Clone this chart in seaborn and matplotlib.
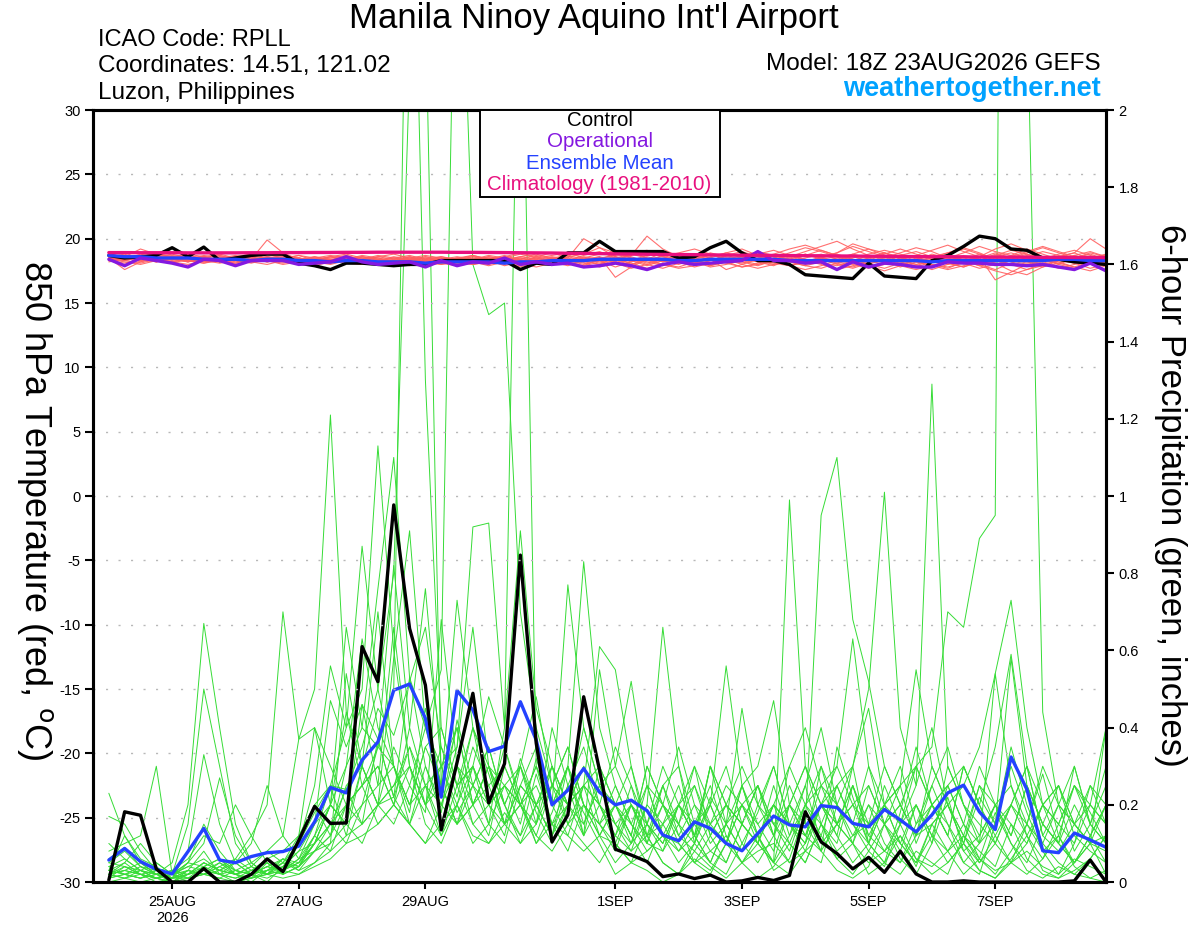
import pandas as pd
import seaborn as sns
import matplotlib.pyplot as plt
from matplotlib.patches import Rectangle

# 6-hourly valid times, 24AUG 00Z .. 8SEP 18Z
times = pd.date_range("2026-08-24 00:00", periods=64, freq="6h")

tick_dates = ["2026-08-25", "2026-08-27", "2026-08-29", "2026-09-01",
              "2026-09-03", "2026-09-05", "2026-09-07"]
tick_labels = ["25AUG\n2026", "27AUG", "29AUG", "1SEP", "3SEP", "5SEP", "7SEP"]

# 850 hPa temperature (C)
control_temp = [18.7, 18.5, 18.6, 18.7, 19.3, 18.6, 19.35, 18.3, 18.5, 18.7, 18.8, 18.8, 18.1, 17.9, 17.6, 18.1,
                18.1, 18.0, 17.9, 18.0, 18.0, 18.3, 18.3, 18.3, 18.3, 18.3, 17.6, 18.1, 18.0, 18.9, 18.9, 19.8,
                19.0, 19.0, 19.0, 19.0, 18.5, 18.6, 19.3, 19.8, 18.9, 18.3, 18.3, 18.0, 17.2, 17.1, 17.0, 16.9,
                18.1, 17.1, 17.0, 16.9, 18.3, 18.7, 19.4, 20.2, 20.0, 19.2, 19.1, 18.5, 18.4, 18.2, 18.1, 18.0]
oper_temp = [18.4, 17.9, 18.5, 18.3, 18.1, 17.8, 18.4, 18.3, 17.9, 18.3, 18.3, 18.3, 18.0, 18.1, 18.2, 18.6,
             18.2, 18.0, 18.1, 18.2, 17.8, 18.3, 17.9, 18.2, 18.1, 18.5, 18.0, 18.2, 18.0, 18.1, 17.8, 17.9,
             18.1, 17.9, 17.6, 18.0, 18.2, 18.0, 18.1, 18.2, 18.3, 19.0, 18.3, 18.3, 18.1, 18.2, 17.6, 18.2,
             17.8, 18.1, 18.0, 17.8, 17.8, 18.2, 18.1, 18.1, 18.0, 18.0, 17.9, 18.0, 17.8, 17.6, 18.1, 17.5]
mean_temp = [18.7, 18.6, 18.6, 18.5, 18.5, 18.5, 18.4, 18.4, 18.4, 18.3, 18.4, 18.4, 18.3, 18.3, 18.2, 18.3,
             18.3, 18.2, 18.2, 18.2, 18.1, 18.2, 18.2, 18.2, 18.2, 18.1, 18.2, 18.2, 18.3, 18.3, 18.3, 18.4,
             18.4, 18.4, 18.4, 18.4, 18.3, 18.3, 18.4, 18.4, 18.4, 18.4, 18.4, 18.3, 18.3, 18.3, 18.3, 18.3,
             18.3, 18.3, 18.3, 18.3, 18.2, 18.3, 18.3, 18.3, 18.3, 18.3, 18.3, 18.3, 18.4, 18.4, 18.3, 18.3]
clim_temp = [18.92, 18.92, 18.91, 18.91, 18.91, 18.90, 18.90, 18.90, 18.90, 18.91, 18.91, 18.92, 18.92, 18.93, 18.93, 18.94,
             18.94, 18.95, 18.95, 18.95, 18.95, 18.95, 18.94, 18.94, 18.93, 18.92, 18.91, 18.90, 18.89, 18.87, 18.86, 18.84,
             18.82, 18.81, 18.79, 18.78, 18.77, 18.76, 18.74, 18.73, 18.72, 18.71, 18.70, 18.69, 18.68, 18.67, 18.66, 18.65,
             18.64, 18.63, 18.62, 18.61, 18.60, 18.60, 18.59, 18.58, 18.57, 18.57, 18.56, 18.55, 18.55, 18.54, 18.54, 18.53]

temp_members = [
    [18.6, 18.4, 18.8, 18.5, 18.3, 18.6, 18.4, 18.2, 18.5, 18.7, 18.4, 18.3, 18.1, 18.2, 18.4, 18.6,
     18.3, 18.0, 18.2, 18.4, 18.1, 18.3, 18.5, 18.2, 18.0, 18.3, 18.6, 18.4, 18.1, 18.3, 18.7, 19.0,
     18.5, 18.2, 18.4, 18.0, 17.8, 18.2, 18.5, 18.9, 18.6, 18.3, 18.1, 17.9, 18.2, 18.5, 18.8, 18.4,
     18.0, 17.7, 18.1, 18.5, 18.3, 18.0, 18.4, 18.8, 18.5, 18.2, 17.9, 18.3, 18.6, 18.4, 18.1, 18.3],
    [18.3, 18.7, 18.5, 18.2, 18.6, 18.8, 18.3, 18.5, 18.2, 18.4, 19.9, 18.9, 18.4, 18.0, 18.3, 18.5,
     18.2, 18.4, 18.1, 17.9, 18.3, 18.5, 18.2, 18.0, 18.4, 18.7, 18.3, 18.1, 18.5, 18.2, 17.9, 18.4,
     18.8, 18.5, 18.1, 18.4, 18.7, 18.3, 17.9, 18.2, 18.6, 19.0, 18.7, 18.3, 18.0, 18.4, 18.6, 18.2,
     17.8, 18.2, 18.7, 19.0, 18.6, 18.1, 17.8, 18.3, 18.7, 19.1, 18.8, 18.4, 18.0, 18.5, 18.9, 18.6],
    [18.5, 17.6, 18.2, 18.7, 18.4, 18.2, 18.6, 18.3, 18.1, 18.4, 18.2, 18.5, 18.7, 18.3, 18.1, 18.4,
     18.6, 18.3, 18.5, 18.2, 17.9, 18.1, 18.4, 18.6, 18.3, 17.9, 18.2, 18.6, 18.9, 18.5, 20.0, 19.3,
     18.6, 18.0, 18.3, 18.7, 18.4, 18.1, 18.5, 18.2, 17.8, 18.1, 18.5, 18.9, 19.3, 19.0, 18.6, 18.2,
     18.5, 18.9, 18.4, 18.0, 17.6, 18.0, 18.4, 18.2, 17.9, 18.3, 18.7, 18.4, 18.1, 17.8, 18.2, 18.5],
    [18.4, 18.6, 19.2, 18.8, 18.5, 18.3, 18.1, 18.4, 18.6, 18.3, 18.5, 18.2, 18.4, 18.6, 18.3, 18.1,
     18.0, 18.3, 18.6, 18.4, 18.2, 18.5, 18.3, 18.0, 18.2, 18.5, 18.8, 18.5, 18.2, 17.9, 18.3, 18.6,
     17.0, 17.8, 18.4, 18.9, 18.5, 18.2, 18.6, 18.9, 19.2, 18.7, 18.3, 17.9, 18.2, 18.6, 18.9, 19.4,
     19.0, 18.6, 18.2, 17.9, 18.3, 18.7, 18.4, 18.0, 17.6, 18.1, 18.6, 19.0, 18.7, 18.3, 18.0, 18.2],
    [18.7, 18.5, 18.3, 18.6, 18.8, 18.5, 18.2, 18.4, 18.3, 18.1, 18.4, 18.6, 18.3, 18.5, 18.2, 18.4,
     18.7, 18.5, 18.2, 18.0, 18.4, 18.6, 18.4, 18.1, 18.3, 18.1, 17.8, 18.2, 18.4, 18.6, 18.3, 18.0,
     18.3, 18.7, 20.2, 19.2, 18.6, 18.2, 17.9, 18.3, 18.6, 18.2, 17.9, 18.4, 18.8, 18.5, 18.1, 17.8,
     18.2, 18.5, 18.9, 19.3, 19.0, 18.5, 18.1, 17.7, 18.0, 18.4, 18.8, 18.5, 18.0, 17.7, 18.1, 18.4],
    [18.2, 18.4, 18.6, 18.3, 18.1, 18.4, 18.7, 18.5, 18.3, 18.6, 18.3, 18.0, 18.2, 18.4, 18.1, 18.3,
     18.5, 18.2, 17.9, 18.2, 18.5, 18.3, 18.0, 18.3, 18.6, 18.4, 18.1, 17.8, 18.1, 18.4, 18.2, 18.5,
     18.2, 18.9, 19.1, 18.6, 18.2, 17.8, 18.1, 18.5, 18.3, 18.0, 18.4, 18.7, 18.4, 18.1, 17.9, 18.3,
     18.7, 18.4, 18.0, 18.3, 18.8, 18.5, 18.2, 18.6, 16.8, 17.4, 18.0, 18.3, 18.6, 18.9, 20.0, 19.2],
    [18.5, 18.3, 18.5, 18.8, 18.6, 18.4, 18.2, 18.5, 18.7, 18.5, 18.2, 18.4, 18.2, 17.9, 18.2, 18.5,
     18.3, 18.6, 18.4, 18.1, 18.3, 18.0, 18.2, 18.5, 18.3, 18.6, 18.9, 18.6, 18.3, 18.1, 18.5, 18.8,
     19.0, 18.6, 18.2, 17.9, 18.3, 18.6, 18.4, 17.6, 18.0, 18.4, 18.2, 18.6, 19.0, 19.4, 19.8, 19.2,
     18.7, 18.3, 17.8, 18.2, 18.6, 18.9, 19.3, 18.9, 18.4, 18.0, 17.6, 17.9, 18.3, 18.1, 18.5, 18.7],
    [18.6, 18.8, 18.4, 18.2, 18.4, 18.7, 18.5, 18.3, 18.0, 18.3, 18.6, 18.4, 18.1, 18.3, 18.6, 18.4,
     18.1, 18.3, 18.5, 18.7, 18.4, 18.2, 18.5, 18.3, 18.1, 18.4, 18.2, 18.5, 18.7, 18.9, 18.5, 18.2,
     18.4, 18.1, 17.7, 18.0, 18.4, 18.8, 18.5, 18.2, 18.5, 18.8, 19.1, 18.7, 18.3, 18.0, 17.6, 17.9,
     18.3, 18.8, 19.2, 18.8, 18.4, 18.1, 17.8, 18.2, 18.6, 18.9, 18.5, 18.2, 18.6, 18.9, 18.4, 18.0],
    [18.4, 18.2, 18.0, 18.3, 18.5, 18.2, 18.5, 18.7, 18.4, 18.2, 18.0, 18.3, 18.5, 18.3, 18.6, 18.8,
     18.5, 18.2, 18.4, 18.6, 18.2, 18.0, 18.3, 18.6, 18.5, 18.2, 18.0, 18.3, 18.0, 18.2, 18.5, 18.3,
     17.8, 18.2, 18.6, 18.3, 18.0, 18.4, 18.8, 18.4, 18.0, 17.7, 18.0, 18.3, 18.7, 19.1, 18.7, 18.3,
     17.9, 17.5, 17.9, 18.4, 18.0, 17.7, 18.2, 18.6, 19.2, 19.6, 19.1, 18.6, 18.2, 17.8, 17.5, 17.9],
    [18.8, 18.6, 18.4, 18.2, 18.5, 18.8, 18.6, 18.3, 18.5, 18.2, 18.5, 18.7, 18.5, 18.2, 18.0, 18.3,
     18.4, 18.7, 18.5, 18.3, 18.6, 18.4, 18.1, 18.3, 18.5, 18.3, 18.5, 18.2, 18.0, 18.3, 18.6, 18.4,
     18.6, 18.3, 18.7, 19.0, 18.7, 18.4, 18.0, 18.2, 18.5, 18.9, 18.6, 18.2, 17.9, 18.2, 18.5, 18.8,
     18.5, 18.2, 17.9, 17.6, 17.9, 18.3, 18.7, 18.4, 18.1, 17.5, 17.2, 17.8, 18.3, 18.7, 19.0, 18.6],
    [18.3, 18.5, 18.7, 18.4, 18.2, 18.0, 18.3, 18.6, 18.4, 18.6, 18.3, 18.1, 18.3, 18.5, 18.7, 18.5,
     18.2, 18.0, 18.2, 18.5, 18.7, 18.5, 18.2, 18.4, 18.7, 18.5, 18.3, 18.0, 18.2, 18.4, 18.1, 17.8,
     18.1, 18.4, 18.0, 17.7, 18.1, 18.5, 18.9, 18.6, 18.3, 18.5, 18.8, 19.2, 19.5, 19.1, 18.7, 18.4,
     18.0, 18.4, 18.7, 18.3, 18.0, 17.8, 18.1, 18.5, 18.9, 18.5, 18.2, 18.0, 18.3, 18.7, 18.4, 18.1],
    [18.5, 18.7, 18.5, 18.3, 18.6, 18.3, 18.1, 18.3, 18.6, 18.8, 18.5, 18.3, 18.5, 18.2, 18.4, 18.2,
     18.0, 18.2, 18.3, 18.5, 18.2, 18.4, 18.6, 18.4, 18.2, 18.0, 18.4, 18.7, 18.4, 18.6, 18.8, 19.3,
     18.9, 18.5, 18.3, 18.0, 17.7, 17.9, 18.3, 18.7, 18.4, 18.2, 18.5, 18.2, 17.9, 17.7, 18.1, 18.5,
     18.8, 19.1, 18.8, 18.5, 18.2, 18.5, 18.9, 19.4, 19.0, 18.7, 18.4, 18.1, 17.7, 18.0, 18.3, 18.6],
    [18.6, 18.3, 18.1, 18.4, 18.2, 18.4, 18.6, 18.8, 18.5, 18.3, 18.6, 18.4, 18.2, 18.4, 18.6, 18.3,
     18.6, 18.4, 18.1, 18.3, 18.0, 18.3, 18.5, 18.7, 18.4, 18.2, 18.4, 18.1, 18.3, 18.5, 18.2, 18.5,
     18.7, 19.0, 18.5, 18.2, 18.5, 18.2, 17.8, 18.0, 18.3, 18.6, 18.3, 17.9, 17.6, 17.9, 18.3, 18.6,
     18.3, 18.0, 18.4, 18.7, 19.1, 19.5, 19.0, 18.6, 18.2, 18.5, 18.9, 19.3, 18.9, 18.5, 18.2, 18.5],
    [18.4, 18.5, 18.3, 18.5, 18.7, 18.5, 18.3, 18.1, 18.3, 18.5, 18.2, 18.4, 18.7, 18.5, 18.3, 18.5,
     18.2, 18.0, 18.3, 18.1, 18.4, 18.6, 18.3, 18.2, 17.9, 18.2, 18.5, 18.3, 18.5, 18.2, 18.4, 18.6,
     18.3, 18.0, 18.4, 18.6, 18.9, 19.2, 18.8, 18.4, 18.1, 18.4, 18.7, 18.4, 18.1, 18.5, 18.2, 18.0,
     17.7, 18.0, 18.5, 18.2, 17.9, 18.2, 18.6, 18.3, 18.0, 18.3, 18.0, 17.8, 18.1, 18.5, 18.8, 18.4],
    [18.7, 18.5, 18.7, 18.4, 18.2, 18.5, 18.3, 18.6, 18.4, 18.2, 18.4, 18.2, 18.5, 18.3, 18.1, 18.4,
     18.6, 18.4, 18.2, 18.4, 18.6, 18.3, 18.1, 18.4, 18.6, 18.4, 18.6, 18.8, 18.5, 18.3, 18.0, 18.3,
     18.5, 18.8, 18.5, 18.2, 18.4, 18.7, 18.4, 18.1, 17.8, 18.0, 18.2, 18.5, 18.2, 18.5, 18.9, 19.6,
     19.2, 18.7, 18.3, 18.0, 18.4, 18.7, 18.3, 17.9, 17.5, 17.2, 17.6, 18.1, 18.4, 18.2, 18.5, 18.8],
    [18.3, 18.1, 18.4, 18.6, 18.4, 18.2, 18.4, 18.2, 18.4, 18.6, 18.8, 18.5, 18.3, 18.6, 18.4, 18.2,
     18.4, 18.6, 18.8, 18.5, 18.3, 18.1, 18.3, 18.0, 18.2, 18.4, 18.2, 18.4, 18.6, 18.4, 18.2, 18.0,
     18.6, 18.3, 17.9, 18.3, 18.6, 18.3, 18.1, 18.4, 18.7, 18.3, 18.0, 18.2, 18.5, 18.8, 18.4, 18.1,
     18.5, 18.9, 18.6, 18.2, 18.5, 18.9, 19.2, 18.8, 18.3, 18.7, 19.2, 18.8, 18.4, 18.1, 17.7, 18.0],
    [18.5, 18.3, 18.6, 18.9, 18.6, 18.4, 18.6, 18.3, 18.1, 18.4, 18.6, 18.3, 18.0, 18.3, 18.5, 18.7,
     18.4, 18.2, 18.0, 18.3, 18.5, 18.2, 18.4, 18.7, 18.4, 18.1, 17.9, 18.2, 18.5, 18.7, 18.4, 18.1,
     18.4, 18.7, 19.0, 18.6, 18.3, 18.0, 18.3, 18.7, 19.0, 18.6, 18.2, 18.5, 18.8, 18.4, 18.0, 17.7,
     18.1, 18.4, 18.1, 17.8, 18.2, 18.6, 18.3, 17.9, 18.2, 18.6, 19.0, 19.4, 19.0, 18.6, 18.3, 18.0],
    [18.6, 18.5, 18.2, 18.4, 18.6, 18.3, 18.5, 18.7, 18.4, 18.2, 18.4, 18.6, 18.4, 18.1, 18.3, 18.1,
     18.3, 18.5, 18.3, 18.6, 18.4, 18.1, 17.9, 18.1, 18.4, 18.6, 18.3, 18.5, 18.2, 18.0, 18.3, 18.5,
     18.1, 17.7, 18.0, 18.4, 18.1, 18.4, 18.7, 18.5, 18.2, 17.9, 18.3, 18.7, 18.4, 18.1, 18.4, 18.8,
     19.2, 18.9, 18.5, 18.2, 17.9, 17.6, 17.9, 18.3, 18.8, 18.4, 18.1, 18.4, 18.8, 19.1, 18.7, 18.4],
]

# 6-hour precipitation (inches)
control_precip = [0.005, 0.182, 0.173, 0.034, 0, 0, 0.035, 0, 0, 0.02, 0.06, 0.027, 0.108, 0.196, 0.152, 0.153,
                  0.61, 0.519, 0.977, 0.657, 0.51, 0.135, 0.31, 0.489, 0.205, 0.307, 0.847, 0.36, 0.104, 0.174, 0.48, 0.29,
                  0.085, 0.07, 0.053, 0.014, 0.021, 0.009, 0.018, 0, 0.003, 0.012, 0.004, 0.017, 0.182, 0.104, 0.074, 0.034,
                  0.064, 0.025, 0.08, 0.021, 0, 0, 0.003, 0, 0, 0, 0, 0, 0, 0.003, 0.057, 0]
mean_precip = [0.057, 0.087, 0.053, 0.033, 0.021, 0.079, 0.139, 0.057, 0.050, 0.066, 0.076, 0.079, 0.093, 0.156, 0.245, 0.231,
               0.316, 0.363, 0.497, 0.513, 0.424, 0.22, 0.496, 0.446, 0.338, 0.352, 0.467, 0.368, 0.20, 0.238, 0.294, 0.233,
               0.200, 0.212, 0.185, 0.122, 0.107, 0.156, 0.139, 0.100, 0.081, 0.126, 0.171, 0.148, 0.143, 0.198, 0.193, 0.152,
               0.143, 0.188, 0.161, 0.130, 0.174, 0.231, 0.251, 0.182, 0.136, 0.324, 0.240, 0.081, 0.076, 0.127, 0.109, 0.090]

precip_members = [
    [0.23, 0.12, 0.05, 0.02, 0, 0.03, 0.08, 0.02, 0, 0.01, 0.05, 0.02, 0.10, 0.18, 0.25, 0.12,
     0.30, 0.45, 0.38, 0.52, 0.66, 0.35, 0.22, 0.40, 0.28, 0.15, 0.32, 0.20, 0.12, 0.25, 0.18, 0.10,
     0.02, 0.05, 0.03, 0, 0.02, 0.08, 0.04, 0.01, 0.05, 0.12, 0.03, 0.06, 0.18, 0.08, 0.03, 0.01,
     0.04, 0.15, 0.06, 0.02, 0.10, 0.22, 0.08, 0.03, 0.01, 0.06, 0.12, 0.03, 0.01, 0.05, 0.10, 0.02],
    [0.17, 0.15, 0.08, 0.03, 0.01, 0.05, 0.15, 0.08, 0.03, 0.02, 0, 0.04, 0.08, 0.15, 0.47, 0.35,
     0.46, 0.37, 0.22, 0.53, 0.30, 0.18, 0.42, 0.25, 0.35, 0.20, 0.12, 0.28, 0.15, 0.08, 0.20, 0.15,
     0.08, 0.20, 0.12, 0.05, 0.02, 0.10, 0.22, 0.15, 0.45, 0.20, 0.12, 0.25, 0.15, 0.08, 0.35, 0.22,
     0.10, 0.05, 0.18, 0.35, 0.20, 0.12, 0.05, 0.02, 0.15, 0.30, 0.18, 0.08, 0.02, 0.10, 0.25, 0.15],
    [0.08, 0.10, 0.12, 0.30, 0.02, 0, 0.04, 0.06, 0.02, 0, 0.03, 0.06, 0.04, 0.12, 0.25, 0.24,
     0.15, 0.20, 0.58, 0.91, 0.40, 0.25, 0.15, 0.30, 0.48, 0.35, 0.22, 0.10, 0.18, 0.30, 0.12, 0.20,
     0.35, 0.25, 0.10, 0.08, 0.15, 0.05, 0.02, 0.10, 0.25, 0.12, 0.05, 0.02, 0.08, 0.20, 0.12, 0.30,
     0.45, 0.20, 0.10, 0.05, 0.12, 0.25, 0.15, 0.06, 0.02, 0.08, 0.15, 0.28, 0.12, 0.05, 0.10, 0.40],
    [0.05, 0.08, 0.04, 0.02, 0.05, 0.20, 0.67, 0.40, 0.15, 0.05, 0.02, 0.04, 0.10, 0.20, 0.12, 0.30,
     0.63, 0.40, 0.30, 0.18, 0.45, 0.25, 0.73, 0.40, 0.20, 0.12, 0.30, 0.48, 0.25, 0.15, 0.10, 0.05,
     0.12, 0.08, 0.20, 0.66, 0.30, 0.10, 0.05, 0.15, 0.20, 0.10, 0.05, 0.12, 0.25, 0.40, 0.20, 0.10,
     0.02, 0.05, 0.12, 0.04, 0.15, 0.08, 0.02, 0.06, 0.18, 0.10, 0.03, 0.01, 0.04, 0.02, 0.01, 0],
    [0.10, 0.06, 0.03, 0.01, 0.02, 0.15, 0.50, 0.30, 0.10, 0.04, 0.08, 0.05, 0.03, 0.08, 0.15, 0.10,
     0.20, 0.35, 0.82, 0.40, 0.76, 0.30, 0.18, 0.25, 0.15, 0.40, 0.91, 0.45, 0.30, 0.20, 0.25, 0.12,
     0.20, 0.12, 0.05, 0.15, 0.25, 0.12, 0.05, 0.02, 0.10, 0.18, 0.30, 0.15, 0.08, 0.05, 0.20, 0.15,
     0.30, 0.15, 0.08, 0.20, 0.12, 0.05, 0.10, 0.22, 0.15, 0.35, 0.20, 0.10, 0.05, 0.02, 0.06, 0.12],
    [0.03, 0.12, 0.06, 0.04, 0.01, 0.08, 0.33, 0.15, 0.05, 0.02, 0.01, 0.03, 0.05, 0.10, 0.20, 0.44,
     0.30, 0.20, 0.15, 0.25, 0.18, 0.68, 0.30, 0.15, 0.20, 0.25, 0.15, 0.32, 0.20, 0.77, 0.40, 0.25,
     0.15, 0.10, 0.25, 0.12, 0.05, 0.10, 0.30, 0.20, 0.10, 0.05, 0.12, 0.30, 0.20, 0.15, 0.10, 0.25,
     0.15, 0.30, 0.20, 0.12, 0.25, 0.15, 0.05, 0.10, 0.54, 0.25, 0.12, 0.20, 0.10, 0.30, 0.15, 0.25],
    [0.02, 0.05, 0.10, 0.05, 0.02, 0.05, 0.10, 0.27, 0.12, 0.05, 0.02, 0.06, 0.03, 0.05, 0.10, 0.54,
     0.30, 0.70, 0.30, 0.15, 0.10, 0.20, 0.35, 0.66, 0.30, 0.15, 0.10, 0.20, 0.12, 0.30, 0.83, 0.40,
     0.25, 0.15, 0.08, 0.12, 0.20, 0.15, 0.08, 0.05, 0.15, 0.25, 0.12, 0.05, 0.10, 0.20, 0.30, 0.20,
     0.15, 0.08, 0.05, 0.12, 0.20, 0.12, 0.30, 0.20, 0.10, 0.05, 0.15, 0.30, 0.20, 0.08, 0.15, 0.30],
    [0.06, 0.09, 0.04, 0.02, 0.03, 0.06, 0.12, 0.10, 0.20, 0.12, 0.05, 0.02, 0.04, 0.10, 0.20, 0.15,
     0.46, 0.25, 0.66, 0.30, 0.20, 0.12, 0.25, 0.15, 0.10, 0.18, 0.12, 0.20, 0.30, 0.15, 0.25, 0.61,
     0.55, 0.30, 0.12, 0.05, 0.02, 0.06, 0.03, 0.10, 0.05, 0.01, 0.04, 0.10, 0.05, 0.15, 0.06, 0.02,
     0.08, 0.04, 0.15, 0.06, 0.02, 0.05, 0.10, 0.03, 0.01, 0.05, 0.02, 0.06, 0.12, 0.04, 0.01, 0.03],
    [0.04, 0.06, 0.03, 0.01, 0.02, 0.04, 0.06, 0.03, 0.05, 0.10, 0.25, 0.12, 0.06, 0.12, 0.08, 0.20,
     0.15, 0.37, 0.22, 0.15, 0.30, 0.20, 0.15, 0.25, 0.35, 0.20, 0.30, 0.15, 0.40, 0.25, 0.12, 0.55,
     0.30, 0.52, 0.25, 0.12, 0.08, 0.15, 0.25, 0.12, 0.05, 0.10, 0.20, 0.15, 0.10, 0.20, 0.12, 0.05,
     0.10, 0.20, 0.15, 0.25, 0.40, 0.20, 0.12, 0.05, 0.10, 0.20, 0.12, 0.06, 0.15, 0.25, 0.15, 0.10],
    [0.02, 0.03, 0.02, 0.01, 0, 0.02, 0.05, 0.03, 0.06, 0.12, 0.20, 0.70, 0.37, 0.40, 0.30, 0.20,
     0.25, 0.15, 0.20, 0.30, 0.15, 0.10, 0.20, 0.30, 0.15, 0.10, 0.25, 0.20, 0.12, 0.20, 0.30, 0.20,
     0.10, 0.20, 0.12, 0.25, 0.15, 0.10, 0.20, 0.56, 0.25, 0.12, 0.20, 0.10, 0.05, 0.15, 0.25, 0.15,
     0.08, 0.15, 0.20, 0.12, 0.30, 0.20, 0.10, 0.05, 0.12, 0.20, 0.15, 0.08, 0.12, 0.25, 0.18, 0.10],
    [0.05, 0.04, 0.02, 0, 0.01, 0.02, 0.03, 0.05, 0.02, 0.03, 0.06, 0.08, 0.12, 0.40, 0.20, 0.15,
     0.10, 0.20, 0.22, 0.35, 0.25, 0.15, 0.30, 0.20, 0.12, 0.30, 0.20, 0.12, 0.25, 0.35, 0.20, 0.15,
     0.10, 0.05, 0.15, 0.30, 0.20, 0.12, 0.05, 0.15, 0.25, 0.30, 0.47, 0.20, 0.12, 0.08, 0.15, 0.25,
     0.12, 0.08, 0.15, 0.20, 0.10, 0.30, 0.20, 0.12, 0.20, 0.10, 0.05, 0.15, 0.25, 0.12, 0.08, 0.05],
    [0.03, 0.02, 0.04, 0.03, 0.02, 0.05, 0.04, 0.02, 0.03, 0.05, 0.08, 0.12, 0.37, 0.50, 1.21, 0.44,
     0.25, 0.30, 0.20, 0.15, 0.25, 0.12, 0.20, 0.10, 0.15, 0.25, 0.20, 0.12, 0.08, 0.15, 0.20, 0.12,
     0.05, 0.10, 0.20, 0.15, 0.08, 0.12, 0.20, 0.30, 0.15, 0.10, 0.05, 0.20, 0.30, 0.15, 0.08, 0.12,
     0.20, 0.10, 0.05, 0.15, 0.25, 0.35, 0.20, 0.10, 0.15, 0.58, 0.25, 0.15, 0.10, 0.05, 0.12, 0.20],
    [0.01, 0.04, 0.02, 0.01, 0.03, 0.02, 0.05, 0.03, 0.02, 0.04, 0.02, 0.05, 0.10, 0.25, 0.56, 0.40,
     0.87, 0.50, 0.30, 0.20, 0.35, 0.25, 0.15, 0.20, 0.30, 0.20, 0.10, 0.15, 0.25, 0.20, 0.12, 0.30,
     0.20, 0.12, 0.30, 0.20, 0.10, 0.05, 0.12, 0.20, 0.15, 0.25, 0.15, 0.08, 0.20, 0.12, 0.25, 0.30,
     0.10, 0.05, 0.02, 0.08, 0.05, 0.02, 0.12, 0.08, 0.04, 0.15, 0.06, 0.02, 0.01, 0.03, 0.06, 0.12],
    [0.02, 0.03, 0.05, 0.02, 0.01, 0.03, 0.02, 0.04, 0.06, 0.03, 0.02, 0.05, 0.12, 0.20, 0.25, 0.40,
     0.50, 1.13, 0.60, 0.30, 0.20, 0.35, 0.25, 0.40, 0.30, 0.20, 0.30, 0.18, 0.10, 0.20, 0.30, 0.15,
     0.20, 0.10, 0.15, 0.08, 0.20, 0.30, 0.12, 0.05, 0.15, 0.10, 0.25, 0.12, 0.20, 0.30, 0.15, 0.10,
     0.25, 0.15, 0.10, 0.20, 0.12, 0.08, 0.15, 0.30, 0.20, 0.12, 0.25, 0.15, 0.10, 0.20, 0.12, 0.05],
    [0.04, 0.02, 0.03, 0.05, 0.02, 0.01, 0.04, 0.06, 0.03, 0.02, 0.04, 0.03, 0.06, 0.15, 0.20, 0.66,
     0.40, 0.76, 1.10, 0.53, 0.40, 0.30, 0.20, 0.35, 0.25, 0.15, 0.20, 0.30, 0.20, 0.12, 0.25, 0.20,
     0.12, 0.25, 0.15, 0.10, 0.20, 0.12, 0.30, 0.15, 0.08, 0.12, 0.20, 0.15, 0.25, 0.10, 0.15, 0.20,
     0.10, 0.25, 0.15, 0.30, 0.20, 0.12, 0.30, 0.20, 0.12, 0.05, 0.10, 0.20, 0.15, 0.10, 0.20, 0.15],
    [0.03, 0.05, 0.02, 0.01, 0, 0.02, 0.04, 0.02, 0.01, 0.03, 0.05, 0.02, 0.04, 0.10, 0.15, 0.24,
     0.35, 0.50, 0.80, 2.10, 2.30, 0.25, 0.40, 0.20, 0.30, 0.15, 0.25, 0.35, 0.20, 0.30, 0.15, 0.25,
     0.15, 0.08, 0.12, 0.20, 0.35, 0.20, 0.10, 0.15, 0.08, 0.20, 0.30, 0.15, 0.10, 0.30, 0.20, 0.12,
     0.15, 0.20, 0.10, 0.05, 0.15, 0.20, 0.12, 0.25, 0.15, 0.20, 0.30, 0.12, 0.08, 0.15, 0.25, 0.20],
    [0.02, 0.04, 0.03, 0.02, 0.01, 0.03, 0.02, 0.05, 0.03, 0.02, 0.04, 0.06, 0.05, 0.12, 0.20, 0.30,
     0.40, 0.35, 0.50, 3.00, 1.30, 0.40, 0.25, 0.30, 0.20, 0.35, 0.20, 0.15, 0.30, 0.20, 0.40, 0.25,
     0.30, 0.20, 0.15, 0.25, 0.12, 0.08, 0.15, 0.25, 0.20, 0.12, 0.05, 0.99, 0.30, 0.20, 0.15, 0.10,
     0.20, 0.15, 0.25, 0.10, 0.20, 0.15, 0.08, 0.12, 0.20, 0.25, 0.15, 0.10, 0.20, 0.30, 0.15, 0.10],
    [0.01, 0.02, 0.01, 0.03, 0.02, 0.04, 0.03, 0.02, 0.05, 0.02, 0.03, 0.04, 0.08, 0.10, 0.20, 0.15,
     0.30, 0.20, 0.35, 0.25, 0.40, 0.55, 2.80, 1.60, 1.47, 1.50, 0.70, 0.40, 0.25, 0.35, 0.20, 0.15,
     0.25, 0.15, 0.10, 0.20, 0.15, 0.30, 0.20, 0.10, 0.20, 0.15, 0.08, 0.20, 0.30, 0.20, 0.25, 0.15,
     0.10, 0.20, 0.30, 0.15, 0.20, 0.25, 0.15, 0.10, 0.20, 0.12, 0.25, 0.15, 0.10, 0.05, 0.12, 0.20],
    [0.02, 0.01, 0.03, 0.02, 0.01, 0.02, 0.05, 0.03, 0.02, 0.04, 0.02, 0.03, 0.06, 0.08, 0.12, 0.20,
     0.25, 0.30, 0.20, 0.40, 0.25, 0.30, 0.35, 0.92, 0.93, 0.40, 2.60, 0.30, 0.20, 0.30, 0.20, 0.12,
     0.20, 0.30, 0.15, 0.10, 0.20, 0.12, 0.30, 0.20, 0.15, 0.25, 0.12, 0.20, 0.15, 0.95, 1.10, 0.68,
     0.52, 0.30, 0.20, 0.12, 0.15, 0.20, 0.10, 0.25, 0.20, 0.15, 0.10, 0.20, 0.25, 0.15, 0.10, 0.08],
    [0.03, 0.02, 0.01, 0.02, 0.03, 0.01, 0.02, 0.04, 0.02, 0.01, 0.03, 0.02, 0.04, 0.08, 0.12, 0.25,
     0.30, 0.20, 0.25, 0.35, 0.20, 0.30, 0.40, 0.20, 0.30, 0.25, 0.20, 0.30, 0.15, 0.25, 0.35, 0.20,
     0.12, 0.20, 0.10, 0.25, 0.30, 0.15, 0.20, 0.10, 0.25, 0.15, 0.20, 0.30, 0.40, 0.25, 0.20, 0.30,
     0.50, 1.01, 0.40, 0.25, 1.29, 0.30, 0.20, 0.15, 0.10, 0.20, 0.30, 0.12, 0.20, 0.15, 0.10, 0.20],
    [0.02, 0.03, 0.02, 0.01, 0.02, 0.03, 0.02, 0.01, 0.03, 0.02, 0.04, 0.03, 0.05, 0.10, 0.15, 0.20,
     0.25, 0.35, 0.30, 0.20, 0.35, 0.40, 0.25, 0.30, 0.20, 0.15, 0.25, 0.20, 0.30, 0.20, 0.25, 0.30,
     0.20, 0.12, 0.30, 0.20, 0.15, 0.25, 0.12, 0.20, 0.15, 0.10, 0.20, 0.15, 0.12, 0.20, 0.15, 0.25,
     0.12, 0.20, 0.25, 0.30, 0.35, 0.70, 0.66, 0.89, 0.95, 6.80, 2.30, 0.44, 0.20, 0.15, 0.10, 0.12],
    [0.02, 0.01, 0.02, 0.03, 0.01, 0.02, 0.03, 0.02, 0.01, 0.02, 0.03, 0.05, 0.04, 0.08, 0.10, 0.15,
     0.20, 0.25, 0.30, 0.20, 0.25, 0.20, 0.30, 0.25, 0.20, 0.25, 0.30, 0.20, 0.25, 0.20, 0.15, 0.25,
     0.20, 0.15, 0.25, 0.20, 0.12, 0.20, 0.15, 0.10, 0.20, 0.25, 0.15, 0.20, 0.12, 0.25, 0.30, 0.63,
     0.30, 0.20, 0.25, 0.55, 0.30, 0.20, 0.25, 0.35, 0.54, 0.73, 0.40, 0.20, 0.15, 0.25, 0.20, 0.15],
    [0.01, 0.02, 0.01, 0.02, 0.01, 0.01, 0.02, 0.03, 0.02, 0.01, 0.02, 0.03, 0.02, 0.05, 0.08, 0.12,
     0.15, 0.20, 0.25, 0.30, 0.20, 0.25, 0.15, 0.20, 0.25, 0.30, 0.20, 0.25, 0.15, 0.20, 0.25, 0.20,
     0.15, 0.20, 0.12, 0.15, 0.20, 0.25, 0.15, 0.20, 0.30, 0.20, 0.15, 0.10, 0.20, 0.25, 0.15, 0.20,
     0.25, 0.15, 0.20, 0.30, 0.20, 0.25, 0.30, 0.20, 0.35, 0.59, 0.30, 0.20, 0.25, 0.15, 0.20, 0.40],
    [0, 0.01, 0, 0.01, 0, 0.01, 0.02, 0.01, 0, 0.01, 0.02, 0.01, 0.02, 0.04, 0.06, 0.10,
     0.12, 0.15, 0.20, 0.15, 0.10, 0.15, 0.20, 0.12, 0.10, 0.15, 0.20, 0.10, 0.15, 0.12, 0.08, 0.12,
     0.10, 0.05, 0.08, 0.12, 0.10, 0.05, 0.08, 0.12, 0.05, 0.08, 0.10, 0.05, 0.08, 0.12, 0.06, 0.10,
     0.05, 0.08, 0.12, 0.06, 0.04, 0.08, 0.12, 0.06, 0.03, 0.05, 0.08, 0.04, 0.02, 0.06, 0.04, 0.02],
]

legend_labels = ["Control", "Operational", "Ensemble Mean", "Climatology (1981-2010)"]

GREEN = "#36dc36"
RED = "#ff6060"
BLUE = "#2442ff"
PURPLE = "#8418e0"
PINK = "#e8107e"
legend_colors = ["black", PURPLE, BLUE, PINK]


def long_form(members, name):
    parts = [pd.DataFrame({"time": times, name: vals, "member": i})
             for i, vals in enumerate(members)]
    return pd.concat(parts, ignore_index=True)


red_df = long_form(temp_members, "temp")
green_df = long_form(precip_members, "precip")

sns.set_style("white")
plt.rcParams["font.family"] = ["Liberation Sans", "DejaVu Sans"]
plt.rcParams["text.color"] = "black"
plt.rcParams["xtick.color"] = "black"
plt.rcParams["ytick.color"] = "black"
plt.rcParams["axes.labelcolor"] = "black"

fig = plt.figure(figsize=(12, 9.27), dpi=100)
ax = fig.add_axes([0.0775, 0.0485, 0.8442, 0.8328])
axp = ax.twinx()
# temperature lines drawn above the precipitation lines
ax.set_zorder(axp.get_zorder() + 1)
ax.patch.set_visible(False)

# precipitation (right axis)
sns.lineplot(data=green_df, x="time", y="precip", units="member", estimator=None,
             color=GREEN, lw=0.7, ax=axp, legend=False)
sns.lineplot(x=times, y=mean_precip, color=BLUE, lw=2.4, ax=axp)
sns.lineplot(x=times, y=control_precip, color="black", lw=2.4, ax=axp)

# temperature (left axis)
sns.lineplot(data=red_df, x="time", y="temp", units="member", estimator=None,
             color=RED, lw=0.8, alpha=0.9, ax=ax, legend=False)
sns.lineplot(x=times, y=control_temp, color="black", lw=2.4, ax=ax)
sns.lineplot(x=times, y=mean_temp, color=BLUE, lw=2.4, ax=ax)
sns.lineplot(x=times, y=oper_temp, color=PURPLE, lw=2.4, ax=ax)
sns.lineplot(x=times, y=clim_temp, color=PINK, lw=2.4, ax=ax)

ax.set_xlim(pd.Timestamp("2026-08-23 18:00"), pd.Timestamp("2026-09-08 18:00"))
ax.set_ylim(-30, 30)
axp.set_ylim(0, 2)

ax.set_yticks(range(-30, 31, 5))
ax.set_yticklabels([str(v) for v in range(-30, 31, 5)])
pticks = [i / 5 for i in range(11)]
axp.set_yticks(pticks)
axp.set_yticklabels(["0", "0.2", "0.4", "0.6", "0.8", "1", "1.2", "1.4", "1.6", "1.8", "2"])
ax.set_xticks(pd.to_datetime(tick_dates))
ax.set_xticklabels(tick_labels)

for a in (ax, axp):
    a.set_xlabel("")
    a.set_ylabel("")
    for sp in a.spines.values():
        sp.set_visible(True)
        sp.set_color("black")
        sp.set_linewidth(2.2)

ax.tick_params(axis="y", left=True, right=False, direction="out", length=6, width=1.5,
               labelsize=10.5, pad=3)
ax.tick_params(axis="x", bottom=True, direction="out", length=5, width=1.5,
               labelsize=10.5, pad=4)
axp.tick_params(axis="y", right=True, left=False, direction="out", length=6, width=1.5,
                labelsize=10.5, pad=3)

ax.yaxis.grid(True, color="#b8b8b8", lw=1.0, linestyle=(0, (1.5, 7.5)))
ax.xaxis.grid(False)

# legend box at the top of the plot
ax.add_patch(Rectangle((0.382, 0.887), 0.237, 0.113, transform=ax.transAxes,
                       facecolor="white", edgecolor="black", lw=1.4, zorder=10))
for lab, col, yy in zip(legend_labels, legend_colors, [0.986, 0.959, 0.931, 0.903]):
    ax.text(0.5, yy, lab, transform=ax.transAxes, ha="center", va="center",
            color=col, fontsize=14.8, zorder=11)

# header texts
fig.text(0.495, 0.980, "Manila Ninoy Aquino Int'l Airport", ha="center", va="center", fontsize=25)
fig.text(0.0817, 0.9569, "ICAO Code: RPLL", ha="left", va="center", fontsize=17)
fig.text(0.0817, 0.9288, "Coordinates: 14.51, 121.02", ha="left", va="center", fontsize=17.5)
fig.text(0.0817, 0.8997, "Luzon, Philippines", ha="left", va="center", fontsize=17.5)
fig.text(0.9175, 0.931, "Model: 18Z 23AUG2026 GEFS", ha="right", va="center", fontsize=17.5)
fig.text(0.9175, 0.904, "weathertogether.net", ha="right", va="center", fontsize=19.5,
         fontweight="bold", color="#00a2ff")

fig.text(0.029, 0.450, r"850 hPa Temperature (red, $^{\mathrm{o}}$C)", rotation=270,
         ha="center", va="center", fontsize=26)
fig.text(0.975, 0.466, "6-hour Precipitation (green, inches)", rotation=270,
         ha="center", va="center", fontsize=25)

fig.savefig("out.png", dpi=100, facecolor="white")
